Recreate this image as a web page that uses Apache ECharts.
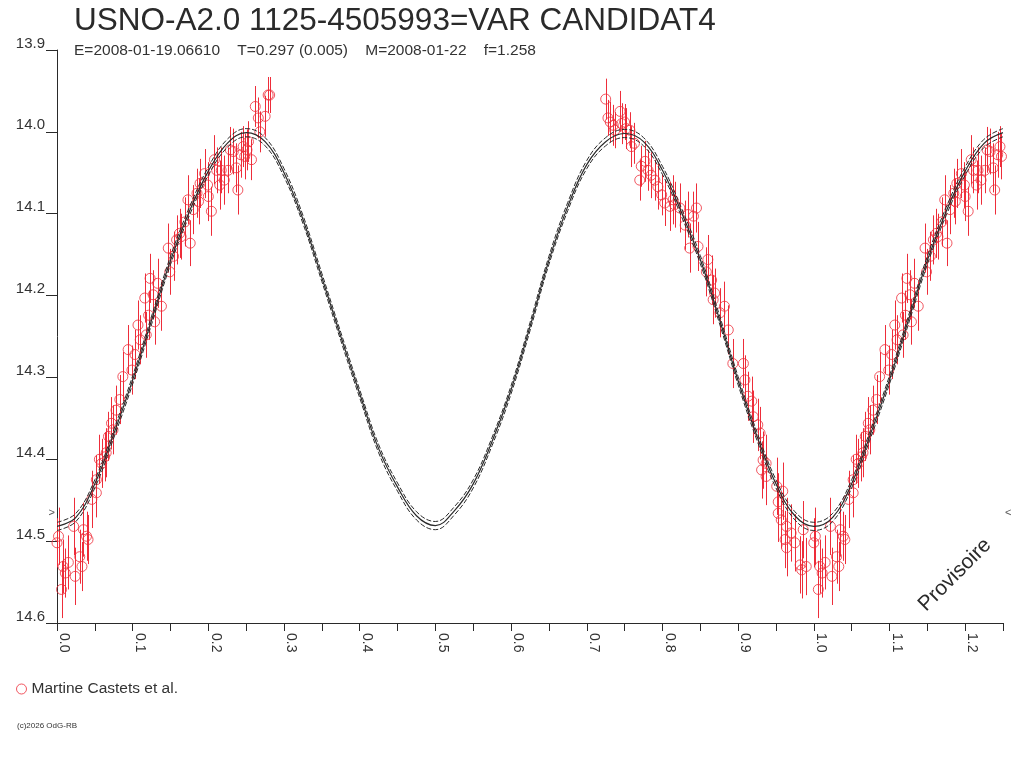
<!DOCTYPE html>
<html lang="fr">
<head>
<meta charset="UTF-8">
<title>USNO-A2.0 1125-4505993</title>
<script src="https://cdn.jsdelivr.net/npm/echarts@6/dist/echarts.min.js"></script>
<style>
    html, body { margin: 0; padding: 0; background: #fff; }
    #main { width: 1024px; height: 768px; }
</style>
</head>
<body>
<div id="main"></div>
<script>
    // observations : phase, magnitude, erreur
    var obsPhase = [
        0.000, 0.002, 0.006, 0.008, 0.011, 0.015, 0.022, 0.024, 0.030, 0.033, 0.035, 0.039, 0.041, 0.046,
        0.052, 0.052, 0.056, 0.059, 0.063, 0.065, 0.068, 0.072, 0.074, 0.078, 0.083, 0.087, 0.094, 0.099,
        0.103, 0.107, 0.110, 0.116, 0.118, 0.121, 0.123, 0.127, 0.129, 0.133, 0.138, 0.147, 0.149, 0.154,
        0.158, 0.162, 0.164, 0.169, 0.173, 0.176, 0.180, 0.185, 0.187, 0.189, 0.195, 0.199, 0.200, 0.204,
        0.208, 0.211, 0.215, 0.217, 0.221, 0.226, 0.229, 0.233, 0.237, 0.239, 0.243, 0.246, 0.248, 0.251,
        0.253, 0.257, 0.262, 0.266, 0.268, 0.275, 0.279, 0.281,
        0.725, 0.728, 0.731, 0.735, 0.737, 0.744, 0.746, 0.750, 0.752, 0.757, 0.759, 0.763, 0.770, 0.772,
        0.777, 0.781, 0.785, 0.790, 0.794, 0.799, 0.803, 0.810, 0.814, 0.816, 0.823, 0.830, 0.834, 0.836,
        0.841, 0.845, 0.847, 0.858, 0.860, 0.865, 0.867, 0.869, 0.876, 0.882, 0.887, 0.893, 0.907, 0.909,
        0.913, 0.918, 0.920, 0.926, 0.929, 0.931, 0.933, 0.937, 0.937, 0.951, 0.953, 0.953, 0.957, 0.959,
        0.962, 0.964, 0.964, 0.970, 0.975, 0.982, 0.984, 0.986, 0.990
    ];
    var obsMag = [
        14.502, 14.494, 14.559, 14.531, 14.539, 14.526, 14.482, 14.543, 14.519, 14.531, 14.486, 14.494, 14.498, 14.449,
        14.441, 14.425, 14.400, 14.405, 14.397, 14.392, 14.372, 14.356, 14.364, 14.340, 14.327, 14.299, 14.266, 14.291,
        14.272, 14.236, 14.254, 14.203, 14.248, 14.224, 14.179, 14.199, 14.232, 14.185, 14.213, 14.142, 14.171, 14.152,
        14.132, 14.124, 14.128, 14.110, 14.083, 14.136, 14.095, 14.075, 14.085, 14.063, 14.051, 14.065, 14.079, 14.097,
        14.034, 14.047, 14.065, 14.047, 14.059, 14.047, 14.022, 14.024, 14.044, 14.071, 14.028, 14.018, 14.030, 14.022,
        14.012, 14.034, 13.969, 13.983, 14.000, 13.981, 13.955, 13.955,
        13.960, 13.983, 13.988, 13.992, 13.998, 13.975, 13.990, 13.988, 13.996, 13.998, 14.018, 14.014, 14.059, 14.042,
        14.036, 14.047, 14.053, 14.059, 14.067, 14.077, 14.087, 14.091, 14.083, 14.089, 14.093, 14.114, 14.101, 14.142,
        14.103, 14.093, 14.140, 14.171, 14.156, 14.181, 14.205, 14.197, 14.221, 14.213, 14.242, 14.283, 14.283, 14.303,
        14.323, 14.329, 14.348, 14.358, 14.368, 14.413, 14.401, 14.405, 14.421, 14.433, 14.452, 14.466, 14.474, 14.439,
        14.498, 14.482, 14.508, 14.490, 14.502, 14.529, 14.535, 14.486, 14.531
    ];
    var obsErr = [
        0.030, 0.035, 0.035, 0.033, 0.030, 0.033, 0.035, 0.035, 0.033, 0.030, 0.033, 0.030, 0.030, 0.035,
        0.030, 0.030, 0.030, 0.030, 0.030, 0.030, 0.030, 0.032, 0.030, 0.030, 0.030, 0.030, 0.030, 0.030,
        0.030, 0.030, 0.030, 0.030, 0.028, 0.030, 0.030, 0.030, 0.028, 0.030, 0.030, 0.030, 0.028, 0.030,
        0.030, 0.030, 0.028, 0.030, 0.030, 0.028, 0.030, 0.030, 0.028, 0.030, 0.030, 0.028, 0.030, 0.030,
        0.030, 0.028, 0.030, 0.028, 0.030, 0.028, 0.028, 0.028, 0.030, 0.030, 0.028, 0.025, 0.028, 0.025,
        0.025, 0.025, 0.025, 0.025, 0.025, 0.025, 0.022, 0.022,
        0.025, 0.022, 0.025, 0.025, 0.022, 0.025, 0.025, 0.022, 0.025, 0.022, 0.025, 0.025, 0.025, 0.025,
        0.025, 0.025, 0.028, 0.025, 0.028, 0.025, 0.028, 0.030, 0.030, 0.028, 0.030, 0.030, 0.028, 0.030,
        0.030, 0.030, 0.030, 0.030, 0.030, 0.030, 0.030, 0.030, 0.030, 0.030, 0.030, 0.030, 0.030, 0.030,
        0.030, 0.030, 0.032, 0.032, 0.032, 0.035, 0.035, 0.035, 0.035, 0.035, 0.035, 0.035, 0.035, 0.035,
        0.035, 0.035, 0.035, 0.035, 0.035, 0.035, 0.035, 0.035, 0.035
    ];

    // courbe ajustee (un cycle), +/- incertitude
    var modelPhase = [
        0.000, 0.025, 0.050, 0.075, 0.100, 0.125, 0.150, 0.175, 0.200, 0.225,
        0.250, 0.275, 0.300, 0.325, 0.350, 0.375, 0.400, 0.425, 0.450, 0.475,
        0.500, 0.525, 0.550, 0.575, 0.600, 0.625, 0.650, 0.675, 0.700, 0.725,
        0.750, 0.775, 0.800, 0.825, 0.850, 0.875, 0.900, 0.925, 0.950, 0.975, 1.000
    ];
    var modelMag = [
        14.482, 14.471, 14.430, 14.369, 14.303, 14.230, 14.157, 14.097, 14.048, 14.014,
        14.001, 14.012, 14.050, 14.107, 14.178, 14.250, 14.320, 14.387, 14.434, 14.469,
        14.481, 14.463, 14.430, 14.378, 14.315, 14.238, 14.157, 14.091, 14.040, 14.012,
        14.002, 14.012, 14.047, 14.098, 14.156, 14.228, 14.304, 14.372, 14.430, 14.469, 14.482
    ];
    var modelSigma = 0.005;

    var limitMag = 14.466;
    var xTicks = { min: 0, max: 1.25, step: 0.05 };
    var yTicks = { min: 13.9, max: 14.6, step: 0.1 };

    var red = '#ee2d3a';
    var ink = '#2a2a2a';
    var font = '"Liberation Sans", Arial, sans-serif';

    // on replie la phase: 0..1.25
    function fold(list) {
        var out = [];
        list.forEach(function (p) {
            out.push(p);
            var q = p.slice();
            q[0] = p[0] + 1;
            if (q[0] <= xTicks.max + 1e-9) out.push(q);
        });
        return out.filter(function (p) { return p[0] >= xTicks.min && p[0] <= xTicks.max + 1e-9; });
    }

    var obs = fold(obsPhase.map(function (x, i) { return [x, obsMag[i], obsErr[i]]; }));

    function modelLine(offset) {
        var pts = modelPhase.map(function (x, i) { return [x, modelMag[i] + offset]; });
        var more = pts.filter(function (p) { return p[0] > 0 && p[0] <= 0.25; })
            .map(function (p) { return [p[0] + 1, p[1]]; });
        return pts.concat(more);
    }

    var myChart = echarts.init(document.getElementById('main'));

    var option = {
        backgroundColor: '#fff',
        animation: false,
        title: {
            text: 'USNO-A2.0 1125-4505993=VAR CANDIDAT4',
            subtext: 'E=2008-01-19.06610    T=0.297 (0.005)    M=2008-01-22    f=1.258',
            left: 74,
            top: 5,
            itemGap: 6,
            padding: 0,
            textStyle: { fontFamily: font, fontSize: 31.5, fontWeight: 'normal', color: ink },
            subtextStyle: { fontFamily: font, fontSize: 15.5, color: '#333' }
        },
        legend: {
            left: 11,
            top: 676,
            itemWidth: 10,
            itemHeight: 10,
            data: [{ name: 'Martine Castets et al.', icon: 'circle',
                itemStyle: { color: 'transparent', borderColor: red, borderWidth: 1 } }],
            textStyle: { fontFamily: font, fontSize: 15.5, color: '#333' }
        },
        grid: { left: 57, right: 21, top: 50, bottom: 145 },
        xAxis: {
            type: 'value',
            min: xTicks.min,
            max: xTicks.max,
            interval: xTicks.step,
            axisLine: { lineStyle: { color: ink, width: 1 } },
            axisTick: { length: 8, lineStyle: { color: ink } },
            splitLine: { show: false },
            axisLabel: {
                rotate: -90,
                margin: 10,
                align: 'left',
                verticalAlign: 'bottom',
                fontFamily: font,
                fontSize: 14,
                color: '#333',
                showMaxLabel: true,
                formatter: function (v) {
                    var t = Math.round(v * 100);
                    return t % 10 === 0 ? (v).toFixed(1) : '';
                }
            }
        },
        yAxis: {
            type: 'value',
            inverse: true,
            min: yTicks.min,
            max: yTicks.max,
            interval: yTicks.step,
            axisLine: { onZero: false, lineStyle: { color: ink, width: 1 } },
            axisTick: { length: 11, lineStyle: { color: ink } },
            splitLine: { show: false },
            axisLabel: {
                margin: 12,
                verticalAlign: 'bottom',
                lineHeight: 13,
                fontFamily: font,
                fontSize: 15,
                color: '#333',
                showMinLabel: true,
                showMaxLabel: true,
                formatter: function (v) { return v.toFixed(1); }
            }
        },
        graphic: [
            {
                type: 'text',
                x: 955, y: 575,
                rotation: Math.PI / 4,
                style: {
                    text: 'Provisoire', fill: ink, font: '21px ' + font,
                    textAlign: 'center', textVerticalAlign: 'middle'
                }
            },
            {
                type: 'text',
                left: 17, top: 722,
                style: { text: '(c)2026 OdG-RB', fill: '#333', font: '8px ' + font }
            }
        ],
        series: [
            {
                name: 'erreurs',
                type: 'custom',
                clip: true,
                silent: true,
                z: 2,
                data: obs,
                renderItem: function (params, api) {
                    var x = api.value(0), y = api.value(1), e = api.value(2);
                    var a = api.coord([x, y - e]);
                    var b = api.coord([x, y + e]);
                    return {
                        type: 'line',
                        shape: { x1: Math.round(a[0]) + 0.5, y1: a[1], x2: Math.round(b[0]) + 0.5, y2: b[1] },
                        style: { stroke: red, lineWidth: 1 }
                    };
                }
            },
            {
                name: 'Martine Castets et al.',
                type: 'scatter',
                symbol: 'circle',
                symbolSize: 10,
                clip: true,
                z: 3,
                itemStyle: { color: 'transparent', borderColor: red, borderWidth: 1 },
                data: obs.map(function (p) { return [p[0], p[1]]; })
            },
            {
                name: 'modele',
                type: 'line',
                smooth: 0.4,
                showSymbol: false,
                z: 4,
                lineStyle: { color: ink, width: 1.2 },
                data: modelLine(0)
            },
            {
                name: 'modele+',
                type: 'line',
                smooth: 0.4,
                showSymbol: false,
                z: 4,
                lineStyle: { color: ink, width: 1, type: [5, 2] },
                data: modelLine(modelSigma)
            },
            {
                name: 'modele-',
                type: 'line',
                smooth: 0.4,
                showSymbol: false,
                z: 4,
                lineStyle: { color: ink, width: 1, type: [5, 2] },
                data: modelLine(-modelSigma)
            },
            {
                name: 'limite',
                type: 'scatter',
                symbolSize: 0,
                clip: false,
                silent: true,
                data: [
                    { value: [xTicks.min, limitMag], label: { formatter: '>', position: 'left', distance: 2 } },
                    { value: [xTicks.max, limitMag], label: { formatter: '<', position: 'right', distance: 2 } }
                ],
                label: { show: true, fontFamily: font, fontSize: 11, color: ink }
            }
        ]
    };

    myChart.setOption(option);
</script>
</body>
</html>
